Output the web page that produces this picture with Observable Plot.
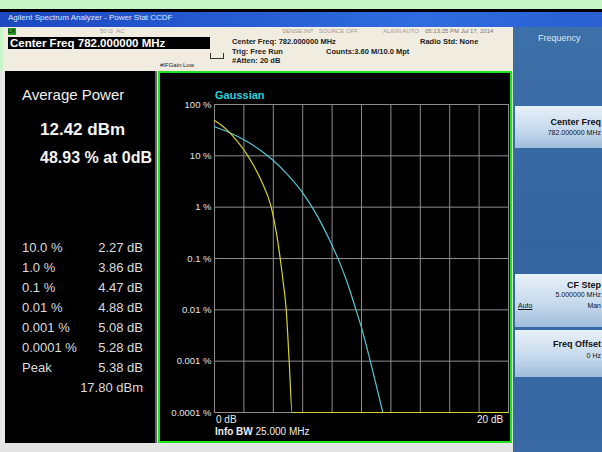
<!DOCTYPE html>
<html><head><meta charset="utf-8">
<script src="https://cdn.jsdelivr.net/npm/d3@7"></script>
<script src="https://cdn.jsdelivr.net/npm/@observablehq/plot@0.6"></script>
<style>
body{margin:0;width:602px;height:452px;overflow:hidden;position:relative;background:#c8f5c8;font-family:"Liberation Sans",Arial,sans-serif;}
.a{position:absolute;white-space:nowrap;}
.btn{position:absolute;left:515px;width:87px;background:linear-gradient(#e8f0f8,#c4d8ec 60%,#9ebcdc);overflow:hidden;}
</style></head><body>
<div class="a" style="left:0;top:9px;width:602px;height:3px;background:#000"></div>
<div class="a" style="left:0;top:12px;width:602px;height:15px;background:linear-gradient(90deg,#1c48c0,#2f6ce0 70%,#2a60d0)"></div>
<div class="a" style="left:8px;top:13px;font-size:8px;color:#dfe8ff">Agilent Spectrum Analyzer - Power Stat CCDF</div>
<div class="a" style="left:3px;top:27px;width:510px;height:44px;background:#f1ece0"></div>
<div class="a" style="left:8px;top:28px;width:8px;height:7px;background:#2a9a2a;font-size:6px;color:#000;line-height:7px">LX</div>
<div class="a" style="left:100px;top:28px;font-size:6px;color:#999">50 Ω&nbsp;&nbsp;AC</div>
<div class="a" style="left:282px;top:28px;font-size:6px;color:#999">SENSE:INT&nbsp;&nbsp;&nbsp;SOURCE OFF</div>
<div class="a" style="left:383px;top:28px;font-size:6px;color:#999">ALIGN AUTO</div>
<div class="a" style="left:425px;top:28px;font-size:6px;color:#777">05:13:25 PM Jul 17, 2014</div>
<div class="a" style="left:8px;top:37px;width:202px;height:12px;background:#000"></div>
<div class="a" style="left:10px;top:37px;font-size:11.5px;font-weight:bold;color:#fff;line-height:12px">Center Freq 782.000000 MHz</div>
<div class="a" style="left:160px;top:62px;font-size:6px;color:#222">#IFGain:Low</div>
<div class="a" style="left:210px;top:53px;width:12px;height:5px;border:1px solid #333;border-top:none"></div>
<div class="a" style="left:232px;top:37px;font-size:7.5px;font-weight:bold;color:#222;line-height:9.5px">Center Freq: 782.000000 MHz<br>Trig: Free Run<br>#Atten: 20 dB</div>
<div class="a" style="left:326px;top:47px;font-size:7.5px;font-weight:bold;color:#222">Counts:3.60 M/10.0 Mpt</div>
<div class="a" style="left:420px;top:37px;font-size:7.5px;font-weight:bold;color:#222">Radio Std: None</div>
<div class="a" style="left:513px;top:27px;width:89px;height:425px;background:linear-gradient(#3d6fa8,#3465a0 50%,#3a6aa6)"></div>
<div class="a" style="left:538px;top:33px;font-size:9px;color:#dde8f5">Frequency</div>
<div class="btn" style="top:106px;height:42px"><div class="a" style="right:1px;top:11px;font-size:9px;font-weight:bold;color:#111">Center Freq</div><div class="a" style="right:1px;top:23px;font-size:7px;color:#111">782.000000 MHz</div></div>
<div class="btn" style="top:274px;height:53px"><div class="a" style="right:1px;top:6px;font-size:9px;font-weight:bold;color:#111">CF Step</div><div class="a" style="right:1px;top:17px;font-size:7px;color:#111">5.000000 MHz</div><div class="a" style="left:3px;top:28px;font-size:7px;color:#111;text-decoration:underline">Auto</div><div class="a" style="right:1px;top:28px;font-size:7px;color:#111">Man</div></div>
<div class="btn" style="top:330px;height:47px"><div class="a" style="right:1px;top:9px;font-size:9px;font-weight:bold;color:#111">Freq Offset</div><div class="a" style="right:1px;top:22px;font-size:7px;color:#111">0 Hz</div></div>
<div class="a" style="left:0;top:71px;width:5px;height:372px;background:#e8e8e8"></div>
<div class="a" style="left:5px;top:71px;width:150px;height:372px;background:#000;border-right:2px solid #666"></div>
<div class="a" style="left:22px;top:86px;font-size:15px;color:#f0f0f0">Average Power</div>
<div class="a" style="left:40px;top:120px;font-size:17px;font-weight:bold;color:#f4f4f4">12.42 dBm</div>
<div class="a" style="left:40px;top:149px;font-size:16px;font-weight:bold;color:#f4f4f4">48.93 % at 0dB</div>
<div id="tbl"></div>
<div class="a" style="left:158px;top:71px;width:350px;height:368px;border:2px solid #22e022;background:#000"></div>
<div id="chart" class="a" style="left:160px;top:73px"></div>
<div class="a" style="left:215px;top:89px;font-size:11px;font-weight:bold;color:#2cd0dc">Gaussian</div>
<div class="a" style="left:216px;top:414px;font-size:10px;color:#eee">0 dB</div>
<div class="a" style="left:215px;top:426px;font-size:10px;color:#eee"><b>Info BW</b> 25.000 MHz</div>
<div class="a" style="left:477px;top:414px;font-size:10px;color:#eee">20 dB</div>
<div class="a" style="left:0;top:443px;width:513px;height:9px;background:#e4e4e4"></div>
<script>
const statLabels = ["10.0 %","1.0 %","0.1 %","0.01 %","0.001 %","0.0001 %","Peak",""];
const statValues = ["2.27 dB","3.86 dB","4.47 dB","4.88 dB","5.08 dB","5.28 dB","5.38 dB","17.80 dBm"];

const yTicks = [100, 10, 1, 0.1, 0.01, 0.001, 0.0001];
const yTickLabels = ["100 %", "10 %", "1 %", "0.1 %", "0.01 %", "0.001 %", "0.0001 %"];
const xGrid = [0, 2, 4, 6, 8, 10, 12, 14, 16, 18, 20];

const gaussDb  = [0, 1, 2, 3, 4, 5, 6, 7, 8, 8.5, 9, 9.5, 10, 10.5, 11, 11.45];
const gaussPct = [36.8, 28.4, 20.5, 13.6, 8.1, 4.2, 1.9, 0.67, 0.18, 0.085, 0.036, 0.013, 0.0045, 0.0013, 0.00034, 0.0001];

const measDb  = [0, 0.5, 1, 1.5, 2, 2.27, 2.7, 3.2, 3.86, 4.2, 4.47, 4.7, 4.88, 5.08, 5.28, 20];
const measPct = [48.93, 39, 29, 20, 13, 10, 6.2, 3.2, 1, 0.33, 0.1, 0.03, 0.01, 0.001, 0.0001, 0.0001];

const tbl = document.getElementById("tbl");
statLabels.forEach((l, i) => {
  const top = 240 + i * 20;
  tbl.insertAdjacentHTML("beforeend",
    `<div class="a" style="left:22px;top:${top}px;font-size:13px;color:#ddd">${l}</div>` +
    `<div class="a" style="right:${602-143}px;top:${top}px;font-size:13px;color:#ddd">${statValues[i]}</div>`);
});

const gauss = gaussDb.map((d, i) => ({db: d, p: gaussPct[i]}));
const meas = measDb.map((d, i) => ({db: d, p: measPct[i]}));
const lab = new Map(yTicks.map((t, i) => [t, yTickLabels[i]]));

const plot = Plot.plot({
  width: 350, height: 369,
  marginLeft: 54, marginRight: 2, marginTop: 31, marginBottom: 30,
  style: {background: "transparent", fontFamily: "Liberation Sans, Arial, sans-serif"},
  x: {domain: [0, 20], axis: null},
  y: {type: "log", domain: [0.0001, 100], axis: null},
  marks: [
    Plot.ruleX(xGrid, {stroke: "#8c8c8c", strokeWidth: 1}),
    Plot.ruleY(yTicks, {stroke: "#8c8c8c", strokeWidth: 1}),
    Plot.axisY({ticks: yTicks, tickFormat: d => lab.get(d), label: null, tickSize: 0, tickPadding: 3, fill: "#e4e4e4", fontSize: 9.5}),
    Plot.line(gauss, {x: "db", y: "p", stroke: "#56c6d6", strokeWidth: 1.2, curve: "monotone-x"}),
    Plot.line(meas, {x: "db", y: "p", stroke: "#d8d22c", strokeWidth: 1.2, curve: "monotone-x"})
  ]
});
document.getElementById("chart").appendChild(plot);
</script>
</body></html>
